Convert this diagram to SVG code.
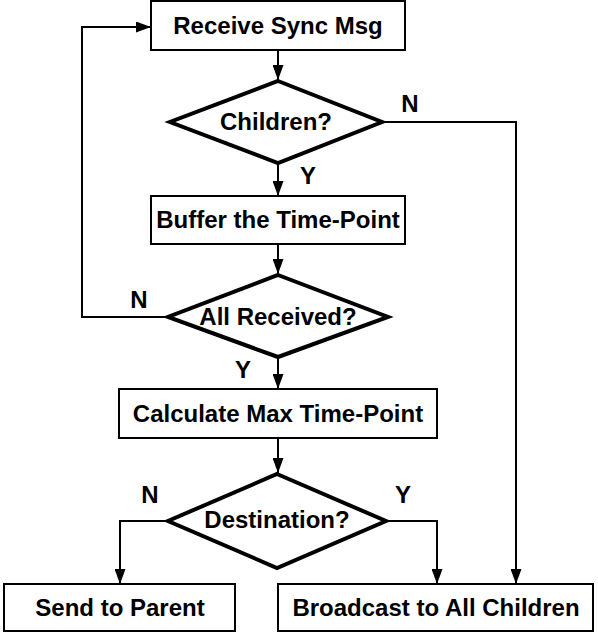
<svg xmlns="http://www.w3.org/2000/svg" width="598" height="635" viewBox="0 0 598 635">
<defs>
<marker id="ah" markerWidth="15" markerHeight="11" refX="15" refY="5.5" viewBox="0 0 15 11" orient="auto" markerUnits="userSpaceOnUse">
<path d="M0,0 L15,5.5 L0,11 Z" fill="#000"/>
</marker>
<style>
.box{fill:#fff;stroke:#000;stroke-width:2}
.dia{fill:#fff;stroke:#000;stroke-width:4;stroke-linejoin:miter}
.t{font-family:"Liberation Sans",Arial,sans-serif;font-weight:bold;font-size:24px;text-anchor:middle;fill:#000}
.c{fill:none;stroke:#000;stroke-width:2}
</style>
</defs>
<rect width="598" height="635" fill="#fff"/>
<g id="connectors">
<path class="c" d="M278,50 V80" marker-end="url(#ah)"/>
<path class="c" d="M278,164 V196" marker-end="url(#ah)"/>
<path class="c" d="M278,244 V274" marker-end="url(#ah)"/>
<path class="c" d="M278,358 V389" marker-end="url(#ah)"/>
<path class="c" d="M278,438 V473" marker-end="url(#ah)"/>
<path class="c" d="M382,122 H516 V584" marker-end="url(#ah)"/>
<path class="c" d="M168,317 H82 V27 H151" marker-end="url(#ah)"/>
<path class="c" d="M168,521 H120 V584" marker-end="url(#ah)"/>
<path class="c" d="M386,521 H437 V584" marker-end="url(#ah)"/>
<text class="t" x="410" y="112">N</text>
<text class="t" x="308" y="184">Y</text>
<text class="t" x="139" y="308">N</text>
<text class="t" x="243" y="378">Y</text>
<text class="t" x="150" y="503">N</text>
<text class="t" x="403" y="503">Y</text>
</g>
<g id="receive">
<rect class="box" x="151" y="1" width="254" height="49"/>
<text class="t" x="278" y="34">Receive Sync Msg</text>
</g>
<g id="children">
<polygon class="dia" points="278,81 382,122 278,163 170,122"/>
<text class="t" x="276" y="130">Children?</text>
</g>
<g id="buffer">
<rect class="box" x="151" y="196" width="254" height="48"/>
<text class="t" x="278" y="228">Buffer the Time-Point</text>
</g>
<g id="allreceived">
<polygon class="dia" points="278,275 388,317 278,357 168,317"/>
<text class="t" x="278" y="325">All Received?</text>
</g>
<g id="calculate">
<rect class="box" x="119" y="389" width="318" height="49"/>
<text class="t" x="278" y="422">Calculate Max Time-Point</text>
</g>
<g id="destination">
<polygon class="dia" points="277,474 386,521 277,568 168,521"/>
<text class="t" x="277" y="528">Destination?</text>
</g>
<g id="send">
<rect class="box" x="4" y="584" width="231" height="47"/>
<text class="t" x="120" y="616">Send to Parent</text>
</g>
<g id="broadcast">
<rect class="box" x="278" y="584" width="315" height="47"/>
<text class="t" x="436" y="616">Broadcast to All Children</text>
</g>
</svg>
